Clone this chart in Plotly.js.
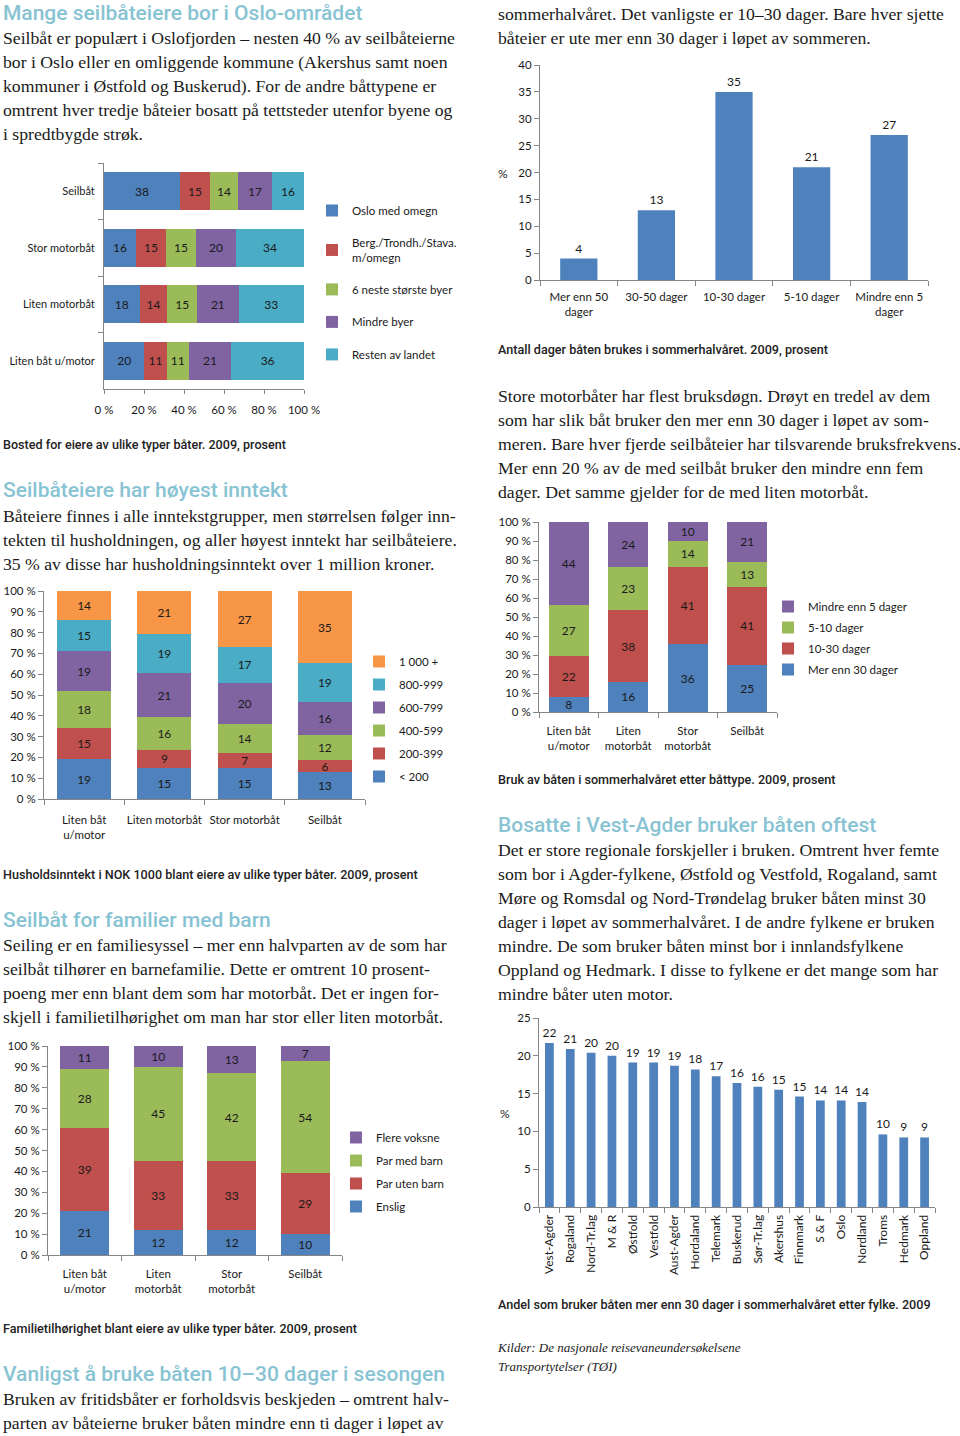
<!DOCTYPE html>
<html><head><meta charset="utf-8">
<script src="https://cdn.plot.ly/plotly-3.0.1.min.js"></script>
<style>
html,body{margin:0;padding:0;background:#fff;}
body{width:960px;height:1436px;position:relative;overflow:hidden;}
.t{position:absolute;white-space:nowrap;}
.h{font-family:Roboto,'Open Sans',sans-serif;font-weight:500;font-size:21px;line-height:24px;color:#88c3d3;}
.b{font-family:'Liberation Serif',serif;font-size:17.7px;line-height:24px;color:#1a1a1a;}
.c{font-family:Roboto,sans-serif;font-weight:500;font-size:12.6px;line-height:16px;color:#222;}
.s{font-family:'Liberation Serif',serif;font-style:italic;font-size:13px;line-height:19px;color:#1a1a1a;}
.p{position:absolute;}
</style>
</head><body>

<div class="t h" style="left:3px;top:1px">Mange seilbåteiere bor i Oslo-området</div>
<div class="t b" style="left:3px;top:26px">Seilbåt er populært i Oslofjorden – nesten 40 % av seilbåteierne<br>bor i Oslo eller en omliggende kommune (Akershus samt noen<br>kommuner i Østfold og Buskerud). For de andre båttypene er<br>omtrent hver tredje båteier bosatt på tettsteder utenfor byene og<br>i spredtbygde strøk.</div>
<div class="t c" style="left:3px;top:437px">Bosted for eiere av ulike typer båter. 2009, prosent</div>

<div class="t b" style="left:498px;top:2px">sommerhalvåret. Det vanligste er 10–30 dager. Bare hver sjette<br>båteier er ute mer enn 30 dager i løpet av sommeren.</div>
<div class="t c" style="left:498px;top:342px">Antall dager båten brukes i sommerhalvåret. 2009, prosent</div>

<div class="t h" style="left:3px;top:478px">Seilbåteiere har høyest inntekt</div>
<div class="t b" style="left:3px;top:504px">Båteiere finnes i alle inntekstgrupper, men størrelsen følger inn-<br>tekten til husholdningen, og aller høyest inntekt har seilbåteiere.<br>35 % av disse har husholdningsinntekt over 1 million kroner.</div>
<div class="t c" style="left:3px;top:867px">Husholdsinntekt i NOK 1000 blant eiere av ulike typer båter. 2009, prosent</div>

<div class="t b" style="left:498px;top:384px">Store motorbåter har flest bruksdøgn. Drøyt en tredel av dem<br>som har slik båt bruker den mer enn 30 dager i løpet av som-<br>meren. Bare hver fjerde seilbåteier har tilsvarende bruksfrekvens.<br>Mer enn 20 % av de med seilbåt bruker den mindre enn fem<br>dager. Det samme gjelder for de med liten motorbåt.</div>
<div class="t c" style="left:498px;top:772px">Bruk av båten i sommerhalvåret etter båttype. 2009, prosent</div>

<div class="t h" style="left:3px;top:908px">Seilbåt for familier med barn</div>
<div class="t b" style="left:3px;top:933px">Seiling er en familiesyssel – mer enn halvparten av de som har<br>seilbåt tilhører en barnefamilie. Dette er omtrent 10 prosent-<br>poeng mer enn blant dem som har motorbåt. Det er ingen for-<br>skjell i familietilhørighet om man har stor eller liten motorbåt.</div>
<div class="t c" style="left:3px;top:1321px">Familietilhørighet blant eiere av ulike typer båter. 2009, prosent</div>

<div class="t h" style="left:498px;top:813px">Bosatte i Vest-Agder bruker båten oftest</div>
<div class="t b" style="left:498px;top:838px">Det er store regionale forskjeller i bruken. Omtrent hver femte<br>som bor i Agder-fylkene, Østfold og Vestfold, Rogaland, samt<br>Møre og Romsdal og Nord-Trøndelag bruker båten minst 30<br>dager i løpet av sommerhalvåret. I de andre fylkene er bruken<br>mindre. De som bruker båten minst bor i innlandsfylkene<br>Oppland og Hedmark. I disse to fylkene er det mange som har<br>mindre båter uten motor.</div>
<div class="t c" style="left:498px;top:1297px">Andel som bruker båten mer enn 30 dager i sommerhalvåret etter fylke. 2009</div>

<div class="t s" style="left:498px;top:1338px">Kilder: De nasjonale reisevaneundersøkelsene<br>Transportytelser (TØI)</div>

<div class="t h" style="left:3px;top:1362px">Vanligst å bruke båten 10–30 dager i sesongen</div>
<div class="t b" style="left:3px;top:1387px">Bruken av fritidsbåter er forholdsvis beskjeden – omtrent halv-<br>parten av båteierne bruker båten mindre enn ti dager i løpet av</div>

<div id="c1" class="p"></div>
<div id="c2" class="p"></div>
<div id="c3" class="p"></div>
<div id="c4" class="p"></div>
<div id="c5" class="p"></div>
<div id="c6" class="p"></div>

<script>
// ---------- DATA ----------
const bostedCategories = ['Seilbåt', 'Stor motorbåt', 'Liten motorbåt', 'Liten båt u/motor'];
const bostedSeries = ['Oslo med omegn', 'Berg./Trondh./Stava.<br>m/omegn', '6 neste største byer', 'Mindre byer', 'Resten av landet'];
const bostedOslo = [38, 16, 18, 20];
const bostedBerg = [15, 15, 14, 11];
const bostedSeks = [14, 15, 15, 11];
const bostedMindre = [17, 20, 21, 21];
const bostedResten = [16, 34, 33, 36];

const dagerCategories = ['Mer enn 50<br>dager', '30-50 dager', '10-30 dager', '5-10 dager', 'Mindre enn 5<br>dager'];
const dagerValues = [4, 13, 35, 21, 27];

const inntektCategories = ['Liten båt<br>u/motor', 'Liten motorbåt', 'Stor motorbåt', 'Seilbåt'];
const inntektSeries = ['< 200', '200-399', '400-599', '600-799', '800-999', '1 000 +'];
const inntektU200 = [19, 15, 15, 13];
const inntekt200 = [15, 9, 7, 6];
const inntekt400 = [18, 16, 14, 12];
const inntekt600 = [19, 21, 20, 16];
const inntekt800 = [15, 19, 17, 19];
const inntekt1000 = [14, 21, 27, 35];

const brukCategories = ['Liten båt<br>u/motor', 'Liten<br>motorbåt', 'Stor<br>motorbåt', 'Seilbåt'];
const brukSeries = ['Mer enn 30 dager', '10-30 dager', '5-10 dager', 'Mindre enn 5 dager'];
const brukOver30 = [8, 16, 36, 25];
const bruk10til30 = [22, 38, 41, 41];
const bruk5til10 = [27, 23, 14, 13];
const brukUnder5 = [44, 24, 10, 21];

const familieCategories = ['Liten båt<br>u/motor', 'Liten<br>motorbåt', 'Stor<br>motorbåt', 'Seilbåt'];
const familieSeries = ['Enslig', 'Par uten barn', 'Par med barn', 'Flere voksne'];
const familieEnslig = [21, 12, 12, 10];
const familieParUten = [39, 33, 33, 29];
const familieParMed = [28, 45, 42, 54];
const familieFlere = [11, 10, 13, 7];

const fylkeCategories = ['Vest-Agder', 'Rogaland', 'Nord-Tr.lag', 'M & R', 'Østfold', 'Vestfold', 'Aust-Agder', 'Hordaland', 'Telemark', 'Buskerud', 'Sør-Tr.lag', 'Akershus', 'Finnmark', 'S & F', 'Oslo', 'Nordland', 'Troms', 'Hedmark', 'Oppland'];
const fylkeValues = [21.7, 20.9, 20.4, 20.0, 19.1, 19.1, 18.7, 18.2, 17.3, 16.4, 15.9, 15.5, 14.6, 14.1, 14.1, 13.9, 9.6, 9.2, 9.2];
const fylkeLabels = [22, 21, 20, 20, 19, 19, 19, 18, 17, 16, 16, 15, 15, 14, 14, 14, 10, 9, 9];

const pctTicks = [0, 10, 20, 30, 40, 50, 60, 70, 80, 90, 100];
const pctTicks20 = [0, 20, 40, 60, 80, 100];

// ---------- STYLE ----------
const BLUE = '#4f81bd', RED = '#c0504d', GREEN = '#9bbb59', PURPLE = '#8064a2', CYAN = '#4bacc6', ORANGE = '#f79646';
const FONT = 'Lato, "Open Sans", sans-serif';
const TXT = '#1a1a1a';
const AX = '#868686';

function axisBase(extra) {
  return Object.assign({
    showline: true, linecolor: AX, linewidth: 1, ticks: 'outside', tickcolor: AX, ticklen: 5,
    showgrid: false, zeroline: false, fixedrange: true,
    tickfont: {family: FONT, size: 11.5, color: TXT}
  }, extra);
}
function pctAxis(vals, extra) {
  return axisBase(Object.assign({
    range: [0, 100], tickmode: 'array', tickvals: vals,
    ticktext: vals.map(v => v + ' %')
  }, extra));
}

// box: [left, top, width, height] page px ; area: [x0, y0, x1, y1] page px
function draw(id, box, area, traces, layoutExtra, legendPos) {
  const el = document.getElementById(id);
  el.style.left = box[0] + 'px'; el.style.top = box[1] + 'px';
  el.style.width = box[2] + 'px'; el.style.height = box[3] + 'px';
  const [x0, y0, x1, y1] = area;
  const pct = layoutExtra.pctLabel;
  delete layoutExtra.pctLabel;
  const layout = Object.assign({
    width: box[2], height: box[3],
    margin: {l: x0 - box[0], r: box[0] + box[2] - x1, t: y0 - box[1], b: box[1] + box[3] - y1, pad: 0},
    paper_bgcolor: 'rgba(0,0,0,0)', plot_bgcolor: 'rgba(0,0,0,0)',
    font: {family: FONT, size: 11.5, color: TXT},
    barmode: 'stack', showlegend: !!legendPos,
    uniformtext: {mode: 'show', minsize: 12}
  }, layoutExtra);
  if (legendPos) {
    layout.legend = {
      x: (legendPos.x - x0) / (x1 - x0), y: (y1 - legendPos.y) / (y1 - y0),
      xanchor: 'left', yanchor: 'top', bgcolor: 'rgba(0,0,0,0)',
      font: {family: FONT, size: 11.5, color: TXT},
      tracegroupgap: legendPos.gap, traceorder: 'grouped'
    };
    // legend order: top item first; reversed for vertical stacks (top segment on top)
    traces.forEach((t, i) => { t.legendrank = legendPos.reversed ? 1000 - i : 1000 + i; });
  }
  layout.annotations = pct ? [{
    text: '%', showarrow: false, xref: 'paper', yref: 'paper',
    x: (pct[0] - x0) / (x1 - x0), y: (y1 - pct[1]) / (y1 - y0),
    xanchor: 'center', yanchor: 'middle', font: {family: FONT, size: 12, color: TXT}
  }] : [];
  Plotly.newPlot(el, traces, layout, {staticPlot: true, displayModeBar: false});
}

function stackTrace(name, x, y, color, orient, group) {
  const t = {
    type: 'bar', name: name, marker: {color: color, line: {width: 0}},
    text: orient === 'h' ? x : y, textposition: 'inside', insidetextanchor: 'middle',
    textangle: 0, textfont: {family: FONT, size: 12, color: TXT},
    width: 0.67, legendgroup: group, hoverinfo: 'none', x: x, y: y
  };
  if (orient === 'h') t.orientation = 'h';
  return t;
}

// ---------- Chart 1: Bosted ----------
draw('c1', [0, 150, 480, 280], [104, 163, 304, 389], [
  stackTrace(bostedSeries[0], bostedOslo, bostedCategories, BLUE, 'h', 'a'),
  stackTrace(bostedSeries[1], bostedBerg, bostedCategories, RED, 'h', 'b'),
  stackTrace(bostedSeries[2], bostedSeks, bostedCategories, GREEN, 'h', 'c'),
  stackTrace(bostedSeries[3], bostedMindre, bostedCategories, PURPLE, 'h', 'd'),
  stackTrace(bostedSeries[4], bostedResten, bostedCategories, CYAN, 'h', 'e')
], {
  barnorm: 'percent',
  xaxis: pctAxis(pctTicks20, {ticklen: 4, ticklabelstandoff: 6}),
  yaxis: axisBase({type: 'category', autorange: 'reversed', tickson: 'boundaries', ticklen: 5, ticklabelstandoff: 6, tickfont: {family: FONT, size: 11, color: TXT}})
}, {x: 312, y: 196, gap: 13.5, reversed: false});

// ---------- Chart 2: Antall dager ----------
draw('c2', [490, 50, 470, 280], [540, 65, 928, 280], [{
  type: 'bar', x: dagerCategories, y: dagerValues, text: dagerValues, textposition: 'outside',
  cliponaxis: false, marker: {color: BLUE}, width: 0.48, hoverinfo: 'none',
  textfont: {family: FONT, size: 12, color: TXT}
}], {
  pctLabel: [503, 173],
  xaxis: axisBase({type: 'category', tickson: 'boundaries', tickangle: 0, ticklabelstandoff: 6}),
  yaxis: axisBase({range: [0, 40], dtick: 5, tick0: 0})
}, null);

// ---------- Chart 3: Inntekt ----------
draw('c3', [0, 580, 480, 270], [44, 591, 365, 799], [
  stackTrace(inntektSeries[0], inntektCategories, inntektU200, BLUE, 'v', 'a'),
  stackTrace(inntektSeries[1], inntektCategories, inntekt200, RED, 'v', 'b'),
  stackTrace(inntektSeries[2], inntektCategories, inntekt400, GREEN, 'v', 'c'),
  stackTrace(inntektSeries[3], inntektCategories, inntekt600, PURPLE, 'v', 'd'),
  stackTrace(inntektSeries[4], inntektCategories, inntekt800, CYAN, 'v', 'e'),
  stackTrace(inntektSeries[5], inntektCategories, inntekt1000, ORANGE, 'v', 'f')
], {
  barnorm: 'percent',
  xaxis: axisBase({type: 'category', tickson: 'boundaries', tickangle: 0, ticklabelstandoff: 10}),
  yaxis: pctAxis(pctTicks, {})
}, {x: 359, y: 647, gap: 4, reversed: true});

// ---------- Chart 4: Bruk ----------
draw('c4', [490, 510, 470, 250], [539, 522, 777, 712], [
  stackTrace(brukSeries[0], brukCategories, brukOver30, BLUE, 'v', 'a'),
  stackTrace(brukSeries[1], brukCategories, bruk10til30, RED, 'v', 'b'),
  stackTrace(brukSeries[2], brukCategories, bruk5til10, GREEN, 'v', 'c'),
  stackTrace(brukSeries[3], brukCategories, brukUnder5, PURPLE, 'v', 'd')
], {
  barnorm: 'percent',
  xaxis: axisBase({type: 'category', tickson: 'boundaries', tickangle: 0, ticklabelstandoff: 8}),
  yaxis: pctAxis(pctTicks, {})
}, {x: 768, y: 592, gap: 2, reversed: true});

// ---------- Chart 5: Familie ----------
draw('c5', [0, 1035, 480, 270], [48, 1046, 342, 1255], [
  stackTrace(familieSeries[0], familieCategories, familieEnslig, BLUE, 'v', 'a'),
  stackTrace(familieSeries[1], familieCategories, familieParUten, RED, 'v', 'b'),
  stackTrace(familieSeries[2], familieCategories, familieParMed, GREEN, 'v', 'c'),
  stackTrace(familieSeries[3], familieCategories, familieFlere, PURPLE, 'v', 'd')
], {
  barnorm: 'percent',
  xaxis: axisBase({type: 'category', tickson: 'boundaries', tickangle: 0, ticklabelstandoff: 8}),
  yaxis: pctAxis(pctTicks, {})
}, {x: 336, y: 1123, gap: 4, reversed: true});

// ---------- Chart 6: Fylke ----------
draw('c6', [490, 1005, 470, 285], [539, 1018, 935, 1207], [{
  type: 'bar', x: fylkeCategories, y: fylkeValues, text: fylkeLabels, textposition: 'outside',
  cliponaxis: false, marker: {color: BLUE}, width: 0.42, hoverinfo: 'none',
  textfont: {family: FONT, size: 12, color: TXT}
}], {
  pctLabel: [505, 1113],
  xaxis: axisBase({type: 'category', tickson: 'boundaries', tickangle: -90, tickfont: {family: FONT, size: 12, color: TXT}, ticklabelstandoff: 2}),
  yaxis: axisBase({range: [0, 25], dtick: 5, tick0: 0})
}, null);
</script>
</body></html>
